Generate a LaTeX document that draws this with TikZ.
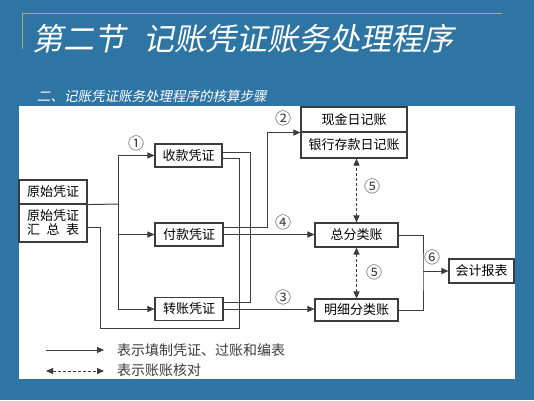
\documentclass[tikz,border=0pt]{standalone}
\usepackage{fontspec}
\setmainfont{Noto Sans CJK SC}
\newfontfamily\titlefont[FakeSlant=0.2]{Noto Sans CJK SC}
\usetikzlibrary{arrows.meta}
\definecolor{bgblue}{RGB}{47,117,164}
\definecolor{goldline}{RGB}{168,172,128}
\definecolor{linegray}{RGB}{60,60,60}
\tikzset{
  box/.style={draw=linegray, line width=1.1pt, fill=white, inner sep=0pt, minimum height=23pt, align=center, font=\fontsize{13}{14}\selectfont},
  flow/.style={draw=linegray, line width=1pt},
  num/.style={text=linegray, inner sep=0pt, font=\fontsize{16}{18}\selectfont},
  legend/.style={text=linegray, inner sep=0pt, anchor=west, font=\fontsize{14}{16}\selectfont},
}
\begin{document}
\begin{tikzpicture}[x=1pt, y=-1pt, >={Triangle[length=7pt,width=6pt]}]
    \useasboundingbox (0,0) rectangle (534,400);
    \fill[bgblue] (0,0) rectangle (534,400);
    \draw[goldline, line width=1pt] (22,49) -- (22,13) -- (502,13);
    \node(title) at (32,50) [anchor=base west, text=white, inner sep=0pt, font=\titlefont\fontsize{31}{36}\selectfont] {第二节\hspace{0.6em}记账凭证账务处理程序};
    \node(subtitle) at (37,101) [anchor=base west, text=white, inner sep=0pt, font=\titlefont\fontsize{13.5}{16}\selectfont] {二、记账凭证账务处理程序的核算步骤};
    \fill[white] (19,106) rectangle (515,379);
    % boxes
    \node(yspz) at (53,192) [box, minimum width=68pt, minimum height=24pt] {原始凭证};
    \node(yshz) at (53,223) [box, minimum width=68pt, minimum height=38pt] {原始凭证\\汇\hspace{0.5em}总\hspace{0.5em}表};
    \node(skpz) at (188.5,155.5) [box, minimum width=67pt] {收款凭证};
    \node(fkpz) at (189,234.5) [box, minimum width=68pt] {付款凭证};
    \node(zzpz) at (189,309) [box, minimum width=68pt] {转账凭证};
    \node(xjrj) at (354,119.5) [box, minimum width=106pt, minimum height=25pt] {现金日记账};
    \node(yhrj) at (354,145) [box, minimum width=106pt, minimum height=26pt] {银行存款日记账};
    \node(zflz) at (356.5,235) [box, minimum width=83pt, minimum height=24pt] {总分类账};
    \node(mxfl) at (356.5,310) [box, minimum width=83pt, minimum height=22pt] {明细分类账};
    \node(kjbb) at (481.5,271) [box, minimum width=65pt, minimum height=24pt] {会计报表};
    % step numbers
    \node(n1) at (136,143) [num] {①};
    \node(n2) at (283,118) [num] {②};
    \node(n4) at (283,222) [num] {④};
    \node(n3) at (283,297) [num] {③};
    \node(n5a) at (372,186) [num] {⑤};
    \node(n5b) at (374,272) [num] {⑤};
    \node(n6) at (432,257) [num] {⑥};
    % connectors
    \coordinate (fz) at (118,204);
    \draw[flow] (yspz.south east) -- (fz);
    \draw[flow,->] (fz) |- (skpz.west);
    \draw[flow,->] (fz) |- (fkpz.west);
    \draw[flow,->] (fz) |- (zzpz.west);
    \draw[flow] ([yshift=3.5pt]skpz.east) -| (250,302) -- ([yshift=7pt]zzpz.east);
    \draw[flow] ([yshift=-2.5pt]skpz.east) -| (239,328) -| (100,227) -- ([yshift=-4pt]yshz.east);
    \draw[flow,->] ([yshift=7pt]fkpz.east) -- (267,227.5) |- (xjrj.south west);
    \draw[flow,->] (fkpz.east) -- (fkpz.east -| zflz.west);
    \draw[flow,->] (zzpz.east) -- (zzpz.east -| mxfl.west);
    \draw[flow,densely dashed,<->] (zflz.north) -- (zflz.north |- yhrj.south);
    \draw[flow,densely dashed,<->] (zflz.south) -- (mxfl.north);
    \coordinate (hz) at (423,271);
    \draw[flow] (zflz.east) -| (hz) |- (mxfl.east);
    \draw[flow,->] (hz) -- (kjbb.west);
    % legend
    \coordinate (sa) at (46,350);
    \coordinate (sb) at (104,350);
    \draw[flow,->] (sa) -- (sb);
    \node(ls) at (117,350) [legend] {表示填制凭证、过账和编表};
    \coordinate (da) at (46,371);
    \coordinate (db) at (104,371);
    \draw[flow,densely dashed,<->] (da) -- (db);
    \node(ld) at (117,370) [legend] {表示账账核对};
\end{tikzpicture}
\end{document}
